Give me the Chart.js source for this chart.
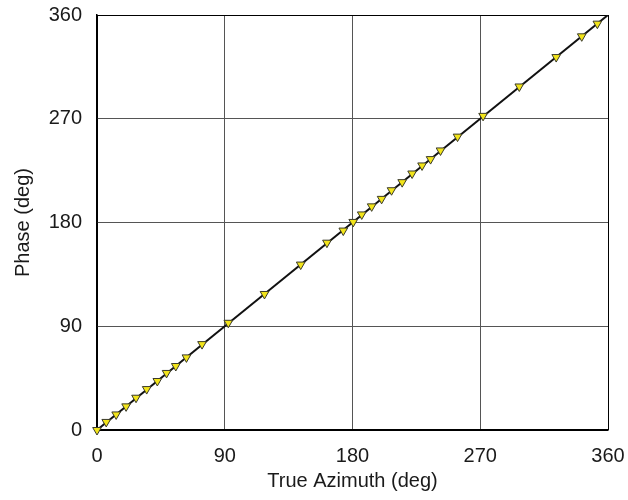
<!DOCTYPE html>
<html>
<head>
<meta charset="utf-8">
<script src="https://cdn.jsdelivr.net/npm/chart.js@4"></script>
<style>
  html, body { margin: 0; padding: 0; background: #fff; }
  #wrap { width: 628px; height: 500px; }
</style>
</head>
<body>
<div id="wrap"><canvas id="phaseChart" width="628" height="500"></canvas></div>
<script>
// measured points
const azimuth = [0, 6.5, 13.5, 20.5, 27.5, 35, 42.5, 49, 55.5, 63, 74, 92.5, 118, 143.5, 162, 173.5, 180.5, 186.5, 193.5, 200.5, 207.5, 215, 222, 229, 235, 242, 254, 272, 297.5, 323.5, 341.5, 352.5];
const phase = [0, 7, 13.5, 20.5, 28, 35.5, 42.5, 49.5, 55.5, 63, 74.5, 93, 118, 143.5, 162.5, 173, 180.5, 187, 194, 200.5, 208, 215, 222.5, 229.5, 235, 242.5, 254.5, 272.5, 298, 323.5, 341.5, 352.5];
// ideal reference line
const idealX = [0, 360];
const idealY = [0, 360];
const tickValues = [0, 90, 180, 270, 360];

const font = { family: "'Liberation Sans', Arial, sans-serif", size: 20 };
const textColor = '#1a1a1a';

const measured = azimuth.map((a, i) => ({ x: a, y: phase[i] }));
const ideal = idealX.map((a, i) => ({ x: a, y: idealY[i] }));

function gridColor(ctx) {
  if (!ctx.tick) return '#555';
  return (ctx.tick.value === 0 || ctx.tick.value === 360) ? '#000' : '#555';
}

// keep the plot area where it is, labels may hang over the edges
function noOverhang(axis) {
  axis.paddingTop = 0;
  axis.paddingBottom = 0;
  axis.paddingLeft = 0;
  axis.paddingRight = 0;
}

const ctx = document.getElementById('phaseChart').getContext('2d');
new Chart(ctx, {
  type: 'scatter',
  data: {
    datasets: [
      {
        label: 'Ideal',
        data: ideal,
        showLine: true,
        borderColor: '#111',
        borderWidth: 2,
        pointRadius: 0,
        order: 2
      },
      {
        label: 'Measured',
        data: measured,
        pointStyle: 'triangle',
        rotation: 180,
        pointRadius: 5,
        backgroundColor: '#f2e41a',
        borderColor: '#3a3a2a',
        borderWidth: 1,
        clip: false,
        order: 1
      }
    ]
  },
  options: {
    responsive: false,
    animation: false,
    layout: { padding: { top: 15, right: 20, left: 0, bottom: 0 } },
    plugins: {
      legend: { display: false },
      tooltip: { enabled: false }
    },
    scales: {
      x: {
        type: 'linear',
        min: 0,
        max: 360,
        afterBuildTicks: axis => { axis.ticks = tickValues.map(v => ({ value: v })); },
        afterFit: axis => { axis.height = 70; noOverhang(axis); },
        ticks: { font: font, color: textColor, padding: 14, maxRotation: 0 },
        grid: { color: gridColor, lineWidth: 1, drawTicks: false },
        border: { color: '#000', width: 1.5 },
        title: {
          display: true,
          text: 'True Azimuth (deg)',
          font: font,
          color: textColor,
          padding: { top: 4, bottom: 7 }
        }
      },
      y: {
        type: 'linear',
        min: 0,
        max: 360,
        afterBuildTicks: axis => { axis.ticks = tickValues.map(v => ({ value: v })); },
        afterFit: axis => { axis.width = 97; noOverhang(axis); },
        ticks: { font: font, color: textColor, padding: 15 },
        grid: { color: gridColor, lineWidth: 1, drawTicks: false },
        border: { color: '#000', width: 1.5 },
        title: {
          display: true,
          text: 'Phase (deg)',
          font: font,
          color: textColor,
          padding: { top: 11, bottom: 4 }
        }
      }
    }
  }
});
</script>
</body>
</html>
